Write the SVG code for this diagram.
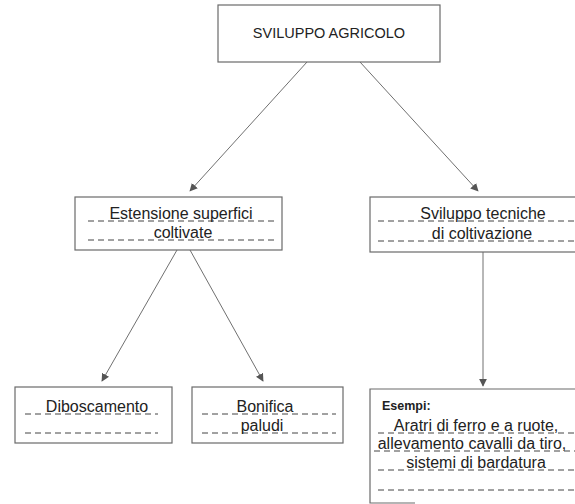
<svg xmlns="http://www.w3.org/2000/svg" width="575" height="504" viewBox="0 0 575 504">
  <style>
    .box { fill: #fff; stroke: #6a6a6a; stroke-width: 1.2; }
    .lbl { font-family: "Liberation Sans", "DejaVu Sans", sans-serif; font-size: 16px; fill: #222; text-anchor: middle; }
    .cap { font-family: "Liberation Sans", "DejaVu Sans", sans-serif; font-size: 14.5px; fill: #222; text-anchor: middle; }
    .hd { font-family: "Liberation Sans", "DejaVu Sans", sans-serif; font-size: 12.5px; font-weight: bold; fill: #222; }
    .rule { stroke: #444; stroke-width: 1; stroke-dasharray: 6 4; fill: none; }
    .edge { stroke: #707070; stroke-width: 1; fill: none; marker-end: url(#arrow); }
  </style>
  <defs>
    <marker id="arrow" viewBox="0 0 10 10" refX="9" refY="5" markerWidth="8" markerHeight="8" markerUnits="userSpaceOnUse" orient="auto">
      <path d="M0,0 L10,5 L0,10 z" fill="#555"/>
    </marker>
  </defs>
  <rect width="575" height="504" fill="#fff"/>

  <g id="connectors">
    <line class="edge" x1="307" y1="62" x2="190" y2="191"/>
    <line class="edge" x1="360" y1="62" x2="478" y2="191"/>
    <line class="edge" x1="177" y1="250" x2="102" y2="381"/>
    <line class="edge" x1="190" y1="250" x2="263" y2="381"/>
    <line class="edge" x1="483" y1="252" x2="483" y2="386"/>
  </g>

  <g id="sviluppo-agricolo">
    <rect class="box" x="218" y="5" width="222" height="57"/>
    <text class="cap" x="329" y="38">SVILUPPO AGRICOLO</text>
  </g>

  <g id="estensione-superfici">
    <rect class="box" x="75" y="197" width="207" height="53"/>
    <line class="rule" x1="88" y1="221" x2="274" y2="221"/>
    <line class="rule" x1="88" y1="240" x2="274" y2="240"/>
    <text class="lbl" x="181" y="219">Estensione superfici</text>
    <text class="lbl" x="183" y="238">coltivate</text>
  </g>

  <g id="sviluppo-tecniche">
    <rect class="box" x="370" y="197" width="215" height="55"/>
    <line class="rule" x1="378" y1="221" x2="575" y2="221"/>
    <line class="rule" x1="378" y1="241" x2="575" y2="241"/>
    <text class="lbl" x="483" y="219">Sviluppo tecniche</text>
    <text class="lbl" x="482" y="239">di coltivazione</text>
  </g>

  <g id="diboscamento">
    <rect class="box" x="15" y="387" width="157" height="56"/>
    <line class="rule" x1="25" y1="414" x2="158" y2="414"/>
    <line class="rule" x1="25" y1="433" x2="158" y2="433"/>
    <text class="lbl" x="97" y="412">Diboscamento</text>
  </g>

  <g id="bonifica-paludi">
    <rect class="box" x="192" y="387" width="151" height="56"/>
    <line class="rule" x1="202" y1="414" x2="336" y2="414"/>
    <line class="rule" x1="202" y1="433" x2="336" y2="433"/>
    <text class="lbl" x="265" y="412">Bonifica</text>
    <text class="lbl" x="262" y="431">paludi</text>
  </g>

  <g id="esempi">
    <path class="box" d="M415,503 H370 V389 H585"/>
    <text class="hd" x="382" y="410">Esempi:</text>
    <line class="rule" x1="378" y1="433" x2="575" y2="433"/>
    <line class="rule" x1="374" y1="451" x2="575" y2="451"/>
    <line class="rule" x1="378" y1="470" x2="575" y2="470"/>
    <line class="rule" x1="378" y1="490" x2="575" y2="490"/>
    <text class="lbl" x="476" y="431">Aratri di ferro e a ruote,</text>
    <text class="lbl" x="472" y="449">allevamento cavalli da tiro,</text>
    <text class="lbl" x="476" y="468">sistemi di bardatura</text>
  </g>
</svg>
